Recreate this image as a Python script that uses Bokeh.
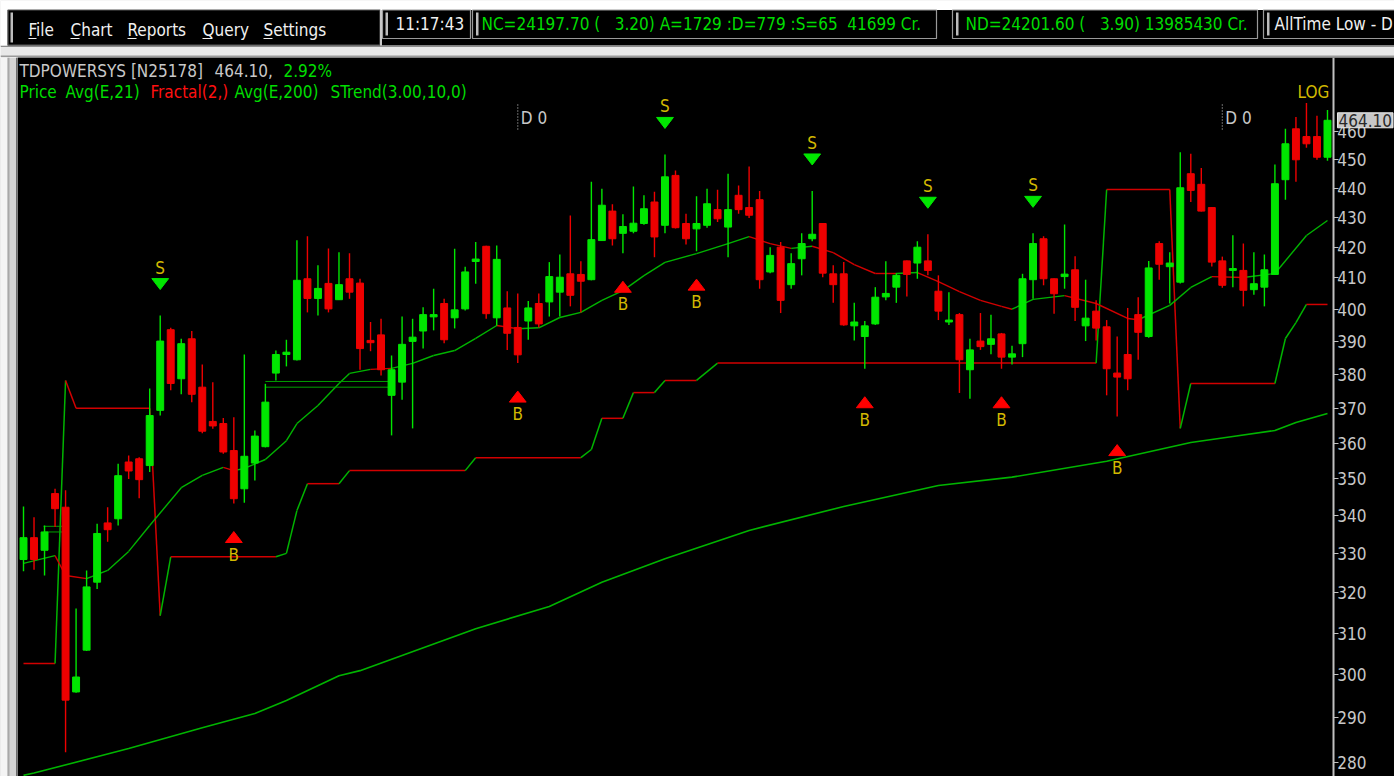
import math
from bokeh.plotting import figure
from bokeh.models import Range1d, FixedTicker, PrintfTickFormatter, Label
from bokeh.layouts import column, row
from bokeh.embed import file_html
from bokeh.resources import INLINE
from bokeh.core.properties import value

FONT = "DejaVu Sans Condensed"

# ---------------- data ----------------
opens = [328.5, 334.2, 330.9, 346.0, 342.3, 296.0, 305.9, 322.7, 338.1, 339.2,
         354.7, 355.6, 353.7, 369.4, 393.6, 378.7, 390.8, 376.2, 366.2, 365.6,
         357.9, 347.3, 354.4, 359.0, 380.4, 386.0, 384.4, 409.7, 403.4, 408.2,
         403.0, 409.7, 408.3, 390.3, 392.0, 373.8, 377.7, 390.0, 393.2, 397.6,
         401.8, 397.3, 400.1, 415.3, 420.3, 397.3, 400.4, 394.3, 396.3, 401.8,
         402.3, 405.4, 411.3, 411.1, 409.4, 422.2, 432.1, 424.6, 425.3, 427.9,
         435.2, 427.3, 444.4, 427.9, 426.1, 427.3, 432.6, 426.7, 437.5, 433.3,
         436.0, 411.9, 420.0, 407.8, 416.2, 422.8, 427.9, 411.3, 411.3, 394.8,
         391.5, 395.4, 403.9, 407.0, 415.5, 414.8, 415.5, 405.7, 396.0, 398.3,
         381.4, 390.1, 389.1, 392.3, 385.2, 389.3, 409.4, 422.8, 409.7, 410.4,
         412.6, 394.8, 399.4, 394.5, 380.4, 386.0, 398.3, 391.5, 421.2, 413.6,
         408.6, 445.0, 441.3, 433.3, 415.5, 412.4, 412.4, 406.2, 407.0, 411.1,
         442.9, 461.0, 458.2, 458.2, 450.8]
highs = [342.5, 339.6, 337.4, 347.3, 346.9, 316.1, 325.7, 337.9, 342.3, 354.2,
         356.5, 356.0, 375.8, 398.0, 394.2, 390.8, 393.2, 383.0, 377.7, 367.2,
         367.4, 386.0, 363.6, 377.2, 387.2, 390.5, 422.3, 423.6, 414.1, 419.6,
         418.3, 418.0, 409.7, 396.0, 397.0, 385.7, 397.7, 397.0, 400.6, 406.5,
         403.3, 419.5, 413.6, 421.7, 420.5, 420.6, 405.7, 405.0, 402.6, 405.0,
         415.1, 417.6, 430.6, 415.4, 442.2, 439.8, 434.4, 431.0, 440.5, 437.5,
         438.7, 451.8, 446.1, 431.2, 437.2, 439.8, 439.4, 445.0, 440.9, 447.5,
         439.0, 420.0, 421.7, 418.0, 424.6, 439.0, 428.0, 414.1, 415.1, 402.0,
         396.3, 407.0, 415.4, 411.5, 415.6, 422.0, 424.3, 410.8, 405.4, 398.8,
         390.8, 398.8, 398.3, 392.6, 388.7, 411.3, 424.6, 423.6, 409.8, 427.6,
         417.0, 409.4, 402.8, 396.6, 391.5, 400.4, 403.8, 415.5, 422.0, 418.3,
         452.6, 452.0, 447.0, 433.4, 416.9, 424.0, 421.2, 418.3, 417.6, 448.2,
         461.0, 465.3, 470.5, 465.8, 467.9]
lows = [325.5, 325.9, 324.4, 337.0, 282.3, 295.8, 305.7, 321.0, 333.1, 337.4,
        350.0, 344.7, 351.9, 367.9, 375.3, 374.1, 371.8, 362.8, 364.1, 357.0,
        343.3, 343.5, 349.6, 358.8, 378.2, 382.4, 384.2, 399.0, 398.0, 399.0,
        402.9, 403.3, 381.4, 387.0, 379.7, 362.2, 372.5, 364.2, 387.8, 393.4,
        389.4, 394.0, 399.6, 408.1, 397.0, 394.8, 387.4, 383.4, 390.5, 394.3,
        397.7, 397.7, 400.9, 399.0, 409.2, 422.2, 420.6, 418.0, 424.6, 427.5,
        416.7, 424.6, 426.2, 420.9, 418.7, 426.5, 428.4, 416.7, 431.2, 429.8,
        406.5, 411.5, 398.8, 406.5, 410.8, 422.0, 410.2, 402.0, 394.8, 390.3,
        381.7, 395.1, 402.8, 402.0, 404.0, 409.7, 410.8, 396.6, 395.1, 374.5,
        372.8, 387.4, 386.1, 381.7, 383.0, 385.2, 403.3, 407.6, 398.6, 406.5,
        396.3, 390.1, 390.3, 373.8, 367.6, 375.3, 384.4, 391.1, 409.4, 401.8,
        408.2, 435.2, 432.0, 413.7, 406.8, 407.0, 400.9, 404.6, 400.9, 411.0,
        436.0, 442.2, 454.2, 449.9, 449.6]
closes = [334.2, 328.5, 335.7, 341.9, 294.1, 299.5, 321.5, 335.3, 336.3, 350.9,
          352.2, 349.8, 367.9, 390.1, 377.3, 389.3, 374.1, 363.4, 364.9, 357.5,
          344.6, 356.3, 362.0, 371.8, 386.0, 386.7, 409.2, 403.4, 406.6, 400.1,
          407.8, 405.4, 387.8, 389.6, 381.4, 381.4, 389.1, 391.3, 398.3, 398.3,
          390.5, 399.8, 411.9, 416.1, 398.6, 416.0, 392.5, 385.9, 400.4, 395.4,
          410.4, 410.2, 404.4, 408.9, 422.5, 434.1, 422.8, 426.9, 428.0, 432.9,
          423.4, 443.9, 426.5, 422.8, 427.9, 434.6, 429.5, 432.6, 432.6, 430.7,
          409.4, 417.3, 402.8, 414.6, 421.2, 424.3, 411.5, 407.8, 395.1, 396.0,
          394.8, 403.8, 405.0, 410.8, 411.1, 420.0, 412.4, 399.4, 396.6, 384.4,
          387.4, 388.4, 390.8, 385.2, 386.2, 409.7, 421.2, 409.7, 404.9, 411.2,
          400.6, 397.2, 394.1, 381.7, 379.2, 378.7, 392.8, 413.2, 414.4, 414.8,
          440.1, 439.2, 432.1, 415.1, 407.6, 413.0, 406.0, 408.1, 412.6, 441.5,
          455.6, 449.9, 455.6, 450.8, 464.1]

ema21_idx = [0, 3, 4, 6, 8, 10, 12, 15, 17, 19, 20, 21, 23, 25, 26, 28, 30, 31,
             33, 35, 37, 39, 41, 43, 45, 47, 49, 51, 53, 55, 57, 59, 61, 64, 67,
             69, 71, 73, 75, 77, 79, 81, 83, 85, 87, 89, 91, 93, 94, 96, 99, 102,
             105, 106, 109, 111, 113, 116, 119, 122, 124]
ema21_val = [327.5, 329.5, 324.4, 323.6, 325.7, 330.6, 337.4, 347.6, 351.0, 353.2,
             352.3, 352.9, 355.4, 360.7, 365.6, 370.8, 377.3, 380.3, 381.5, 381.8,
             383.3, 385.7, 387.2, 390.9, 394.9, 393.9, 394.2, 397.4, 399.0, 402.8,
             405.9, 410.7, 415.0, 417.9, 421.2, 423.5, 421.2, 419.6, 420.3, 418.2,
             414.3, 411.4, 411.4, 411.7, 408.8, 405.6, 402.8, 400.9, 400.0, 403.1,
             404.3, 401.8, 397.1, 396.7, 401.2, 406.9, 410.4, 410.1, 411.4, 423.9,
             428.9]

ema200_idx = [0, 1, 10, 17, 22, 25, 30, 32, 43, 50, 55, 61, 69, 78, 87, 94, 103,
              111, 115, 119, 121, 124]
ema200_val = [277.2, 277.7, 283.1, 287.8, 291.0, 294.0, 299.8, 301.0, 311.1, 316.6,
              322.7, 328.7, 336.1, 342.5, 348.2, 350.5, 354.9, 360.2, 361.9, 363.6,
              365.9, 368.5]

strend_idx = [0, 3, 4, 5, 12, 13, 14, 24, 25, 26, 27, 30, 31, 42, 43, 53, 54, 55,
              57, 58, 60, 61, 64, 66, 102, 103, 109, 110, 111, 119, 120, 121, 122,
              124]
strend_val = [302.7, 302.7, 378.2, 370.0, 370.0, 314.3, 329.2, 329.2, 330.1, 341.4,
              348.7, 348.7, 352.3, 352.3, 355.9, 355.9, 358.2, 367.1, 367.1, 374.6,
              374.6, 378.2, 378.2, 383.4, 383.4, 439.5, 439.5, 364.2, 377.3, 377.3,
              390.9, 395.8, 401.5, 401.5]

# user-drawn double trend lines
draw_x0 = [1.9, 1.9, 23.0, 23.0]
draw_x1 = [3.8, 3.8, 35.2, 35.2]
draw_y = [337.2, 335.7, 377.9, 376.2]

sell_idx = [13, 61, 75, 86, 96]
buy_idx = [20, 47, 57, 64, 80, 93, 104]
day_idx = [47, 114]
price_ticks = [280, 290, 300, 310, 320, 330, 340, 350, 360, 370, 380, 390, 400,
               410, 420, 430, 440, 450, 460]
last_price = 464.10

menu_items = ["File", "Chart", "Reports", "Query", "Settings"]
clock_text = "11:17:43"
nc_text = "NC=24197.70 (\u00a0\u00a0\u00a03.20) A=1729 :D=779 :S=65\u00a0\u00a041699 Cr."
nd_text = "ND=24201.60 (\u00a0\u00a0\u00a03.90) 13985430 Cr."
atl_text = "AllTime Low - D"

# ---------------- styles / geometry ----------------
GREEN = "#00e600"
RED = "#ee0000"
LGREEN = "#00b400"
LRED = "#d20000"
YEL = "#d2b800"
GREY = "#c8c8c8"

TOP = 57                 # chart frame starts at this page y
LEFT = 17                # chart frame starts at this page x
W_MAIN, H_MAIN = 1394 - LEFT, 776 - TOP
PX_PER_BAR = 10.516
X0 = -0.571                              # page x 17
AXIS_X = 124.571                         # page x 1333 (price axis line)
X1 = X0 + W_MAIN / PX_PER_BAR            # page x 1394
Y0, Y1 = 276.95, 487.6
K = H_MAIN / math.log(Y1 / Y0)      # pixels per ln unit


def price_at(ref_y):
    return Y1 * math.exp(-(ref_y - TOP) / K)


def sl(xr, yr):
    # page pixel -> screen units in main frame
    return xr - LEFT, H_MAIN - (yr - TOP)


n = len(opens)
idx = list(range(n))

p = figure(width=W_MAIN, height=H_MAIN, x_range=Range1d(X0, X1),
           y_range=Range1d(Y0, Y1), y_axis_type="log", y_axis_location="left",
           x_axis_location=None, toolbar_location=None, output_backend="svg",
           background_fill_color="black", border_fill_color="black",
           min_border_left=0, min_border_top=0, min_border_bottom=0,
           min_border_right=0, outline_line_color=None)
p.grid.grid_line_color = None

# price axis: drawn at the right edge of the bars, labels to its right
ax = p.yaxis[0]
ax.ticker = FixedTicker(ticks=price_ticks)
ax.formatter = PrintfTickFormatter(format="%d")
ax.fixed_location = AXIS_X
ax.axis_line_color = "#c0c0c0"
ax.axis_line_width = 2
ax.major_tick_line_color = "#c0c0c0"
ax.major_tick_out = 0
ax.major_tick_in = 5
ax.minor_tick_line_color = None
ax.major_label_text_color = GREY
ax.major_label_text_font = FONT
ax.major_label_text_font_size = "17px"
ax.major_label_standoff = -33


def seg_lists(xs, ys):
    return xs[:-1], ys[:-1], xs[1:], ys[1:]


# EMA200
p.line(ema200_idx, ema200_val, color=LGREEN, line_width=1.6)

# Supertrend step line: rising = green, otherwise red
sx0, sy0, sx1, sy1 = seg_lists(strend_idx, strend_val)
s_col = [LGREEN if b > a else LRED for a, b in zip(sy0, sy1)]
p.segment(sx0, sy0, sx1, sy1, color=s_col, line_width=1.5)

# EMA21 coloured by price vs average
ex0, ey0, ex1, ey1 = seg_lists(ema21_idx, ema21_val)
e_col = [LGREEN if closes[xb] >= yb else LRED for xb, yb in zip(ex1, ey1)]
p.segment(ex0, ey0, ex1, ey1, color=e_col, line_width=1.4)

# drawn trend lines
p.segment(draw_x0, draw_y, draw_x1, draw_y, color="#00a000", line_width=1)

# candles
ccol = [GREEN if c >= o else RED for o, c in zip(opens, closes)]
p.segment(idx, highs, idx, lows, color=ccol, line_width=1.4)
p.vbar(x=idx, width=0.66, top=[max(o, c) for o, c in zip(opens, closes)],
       bottom=[min(o, c) for o, c in zip(opens, closes)],
       fill_color=ccol, line_color=ccol, line_width=1)

# sell / buy signals
hw = 0.8
s_xs = [[i - hw, i + hw, i] for i in sell_idx]
s_ys = [[highs[i] * math.exp(37 / K), highs[i] * math.exp(37 / K),
         highs[i] * math.exp(26 / K)] for i in sell_idx]
p.patches(s_xs, s_ys, fill_color="#00e600", line_color="#00e600", line_width=1)
p.text(x=sell_idx, y=[highs[i] for i in sell_idx], text=["S"] * len(sell_idx),
       y_offset=-48, text_align="center", text_baseline="middle",
       text_color=YEL, text_font=value(FONT), text_font_size="17px")

b_xs = [[i - hw, i + hw, i] for i in buy_idx]
b_ys = [[lows[i] * math.exp(-39 / K), lows[i] * math.exp(-39 / K),
         lows[i] * math.exp(-28 / K)] for i in buy_idx]
p.patches(b_xs, b_ys, fill_color="#ff0000", line_color="#ff0000", line_width=1)
p.text(x=buy_idx, y=[lows[i] for i in buy_idx], text=["B"] * len(buy_idx),
       y_offset=51, text_align="center", text_baseline="middle",
       text_color=YEL, text_font=value(FONT), text_font_size="17px")

# day markers
p.segment(day_idx, [price_at(104)] * 2, day_idx, [price_at(130)] * 2,
          color="#b0b0b0", line_width=1.2, line_dash="1 2")
for d in day_idx:
    _, yy = sl(0, 117)
    p.add_layout(Label(x=d, y=yy, x_units="data", y_units="screen", x_offset=3,
                       text="D 0", text_color=GREY, text_font=FONT,
                       text_font_size="17px", text_baseline="middle"))


# titles
def add_lab(xr, yr, txt, color, size="17px"):
    xx, yy = sl(xr, yr)
    p.add_layout(Label(x=xx, y=yy, x_units="screen", y_units="screen", text=txt,
                       text_color=color, text_font=FONT, text_font_size=size,
                       text_baseline="middle"))


add_lab(19, 70, "TDPOWERSYS [N25178]", GREY)
add_lab(214, 70, "464.10,", GREY)
add_lab(283, 70, "2.92%", "#00dc00")
add_lab(19, 91, "Price", "#00dc00")
add_lab(65, 91, "Avg(E,21)", "#00dc00")
add_lab(150, 91, "Fractal(2,)", "#ff1010")
add_lab(234, 91, "Avg(E,200)", "#00dc00")
add_lab(330, 91, "STrend(3.00,10,0)", "#00dc00")
add_lab(1297, 91, "LOG", YEL)

# last price box on the axis
p.add_layout(Label(x=AXIS_X, y=last_price, x_units="data", y_units="data",
                   x_offset=4, text="%.2f" % last_price, text_color="#282828",
                   text_font=FONT, text_font_size="17px", text_baseline="middle",
                   background_fill_color="#c8c8c8", border_line_color="#e8e8e8",
                   padding=1, level="overlay"))

# ---------------- header (window chrome) ----------------
hdr = figure(width=1394, height=TOP, x_range=Range1d(0, 1394), y_range=Range1d(TOP, 0),
             toolbar_location=None, output_backend="svg", min_border=0,
             x_axis_location=None, y_axis_location=None,
             background_fill_color="#e8e8e8", border_fill_color="#e8e8e8",
             outline_line_color=None)
hdr.grid.grid_line_color = None
hdr.quad(left=[0, 7, 0, 0], right=[1394, 1394, 1394, 1394],
         top=[0, 9.5, 45, 55], bottom=[9.5, 45, 46.5, 57],
         fill_color=["#ffffff", "#000000", "#8c8c8c", "#9a9a9a"], line_color=None)
hdr.quad(left=[0], right=[7], top=[9.5], bottom=[45], fill_color="#ffffff",
         line_color=None)
# box outlines
bx_l = [7.5, 382, 472, 952, 1263]
bx_r = [379.5, 470, 936, 1257, 1400]
bx_b = [44.5, 38, 38, 38, 38]
hdr.quad(left=bx_l, right=bx_r, top=[9.5] * 5, bottom=bx_b, fill_color=None,
         line_color=["#585858", "#9a9a9a", "#9a9a9a", "#9a9a9a", "#9a9a9a"],
         line_width=1.2)
# bevel grips
hdr.quad(left=[10, 385, 475.5, 955.5, 1266.5], right=[12.5, 387.5, 478, 958, 1269],
         top=[12] * 5, bottom=[42, 35, 35, 35, 35], fill_color="#bcbcbc",
         line_color=None)
hdr.quad(left=[379.5], right=[381.5], top=[9.5], bottom=[45], fill_color="#c8c8c8",
         line_color=None)

menu_x = [28, 70, 127, 202, 263]
hdr.text(x=menu_x, y=[29] * 5, text=menu_items, text_color="#f0f0f0",
         text_font=value(FONT), text_font_size="17px", text_baseline="middle")
# mnemonic underlines
ul_w = [8, 9, 9, 10, 9]
hdr.segment(menu_x, [38] * 5, [a + b for a, b in zip(menu_x, ul_w)], [38] * 5,
            color="#f0f0f0", line_width=1)
hdr.text(x=[395, 481, 965, 1274], y=[23.5] * 4,
         text=[clock_text, nc_text, nd_text, atl_text],
         text_color=["#f0f0f0", "#00dc00", "#00dc00", "#f0f0f0"],
         text_font=value(FONT), text_font_size="17px", text_baseline="middle")

# ---------------- left frame strip ----------------
strip = figure(width=LEFT, height=H_MAIN, x_range=Range1d(0, LEFT), y_range=Range1d(0, 1),
               toolbar_location=None, output_backend="svg", min_border=0,
               x_axis_location=None, y_axis_location=None,
               background_fill_color="#d4d4d4", border_fill_color="#d4d4d4",
               outline_line_color=None)
strip.grid.grid_line_color = None
strip.quad(left=[0, 7, 15.5], right=[7, 9, 17], top=[1, 1, 1], bottom=[0, 0, 0],
           fill_color=["#f4f4f4", "#a8a8a8", "#6c6c6c"], line_color=None)

layout = column(hdr, row(strip, p, spacing=0), spacing=0)
open("out.html", "w").write(file_html(layout, INLINE))
